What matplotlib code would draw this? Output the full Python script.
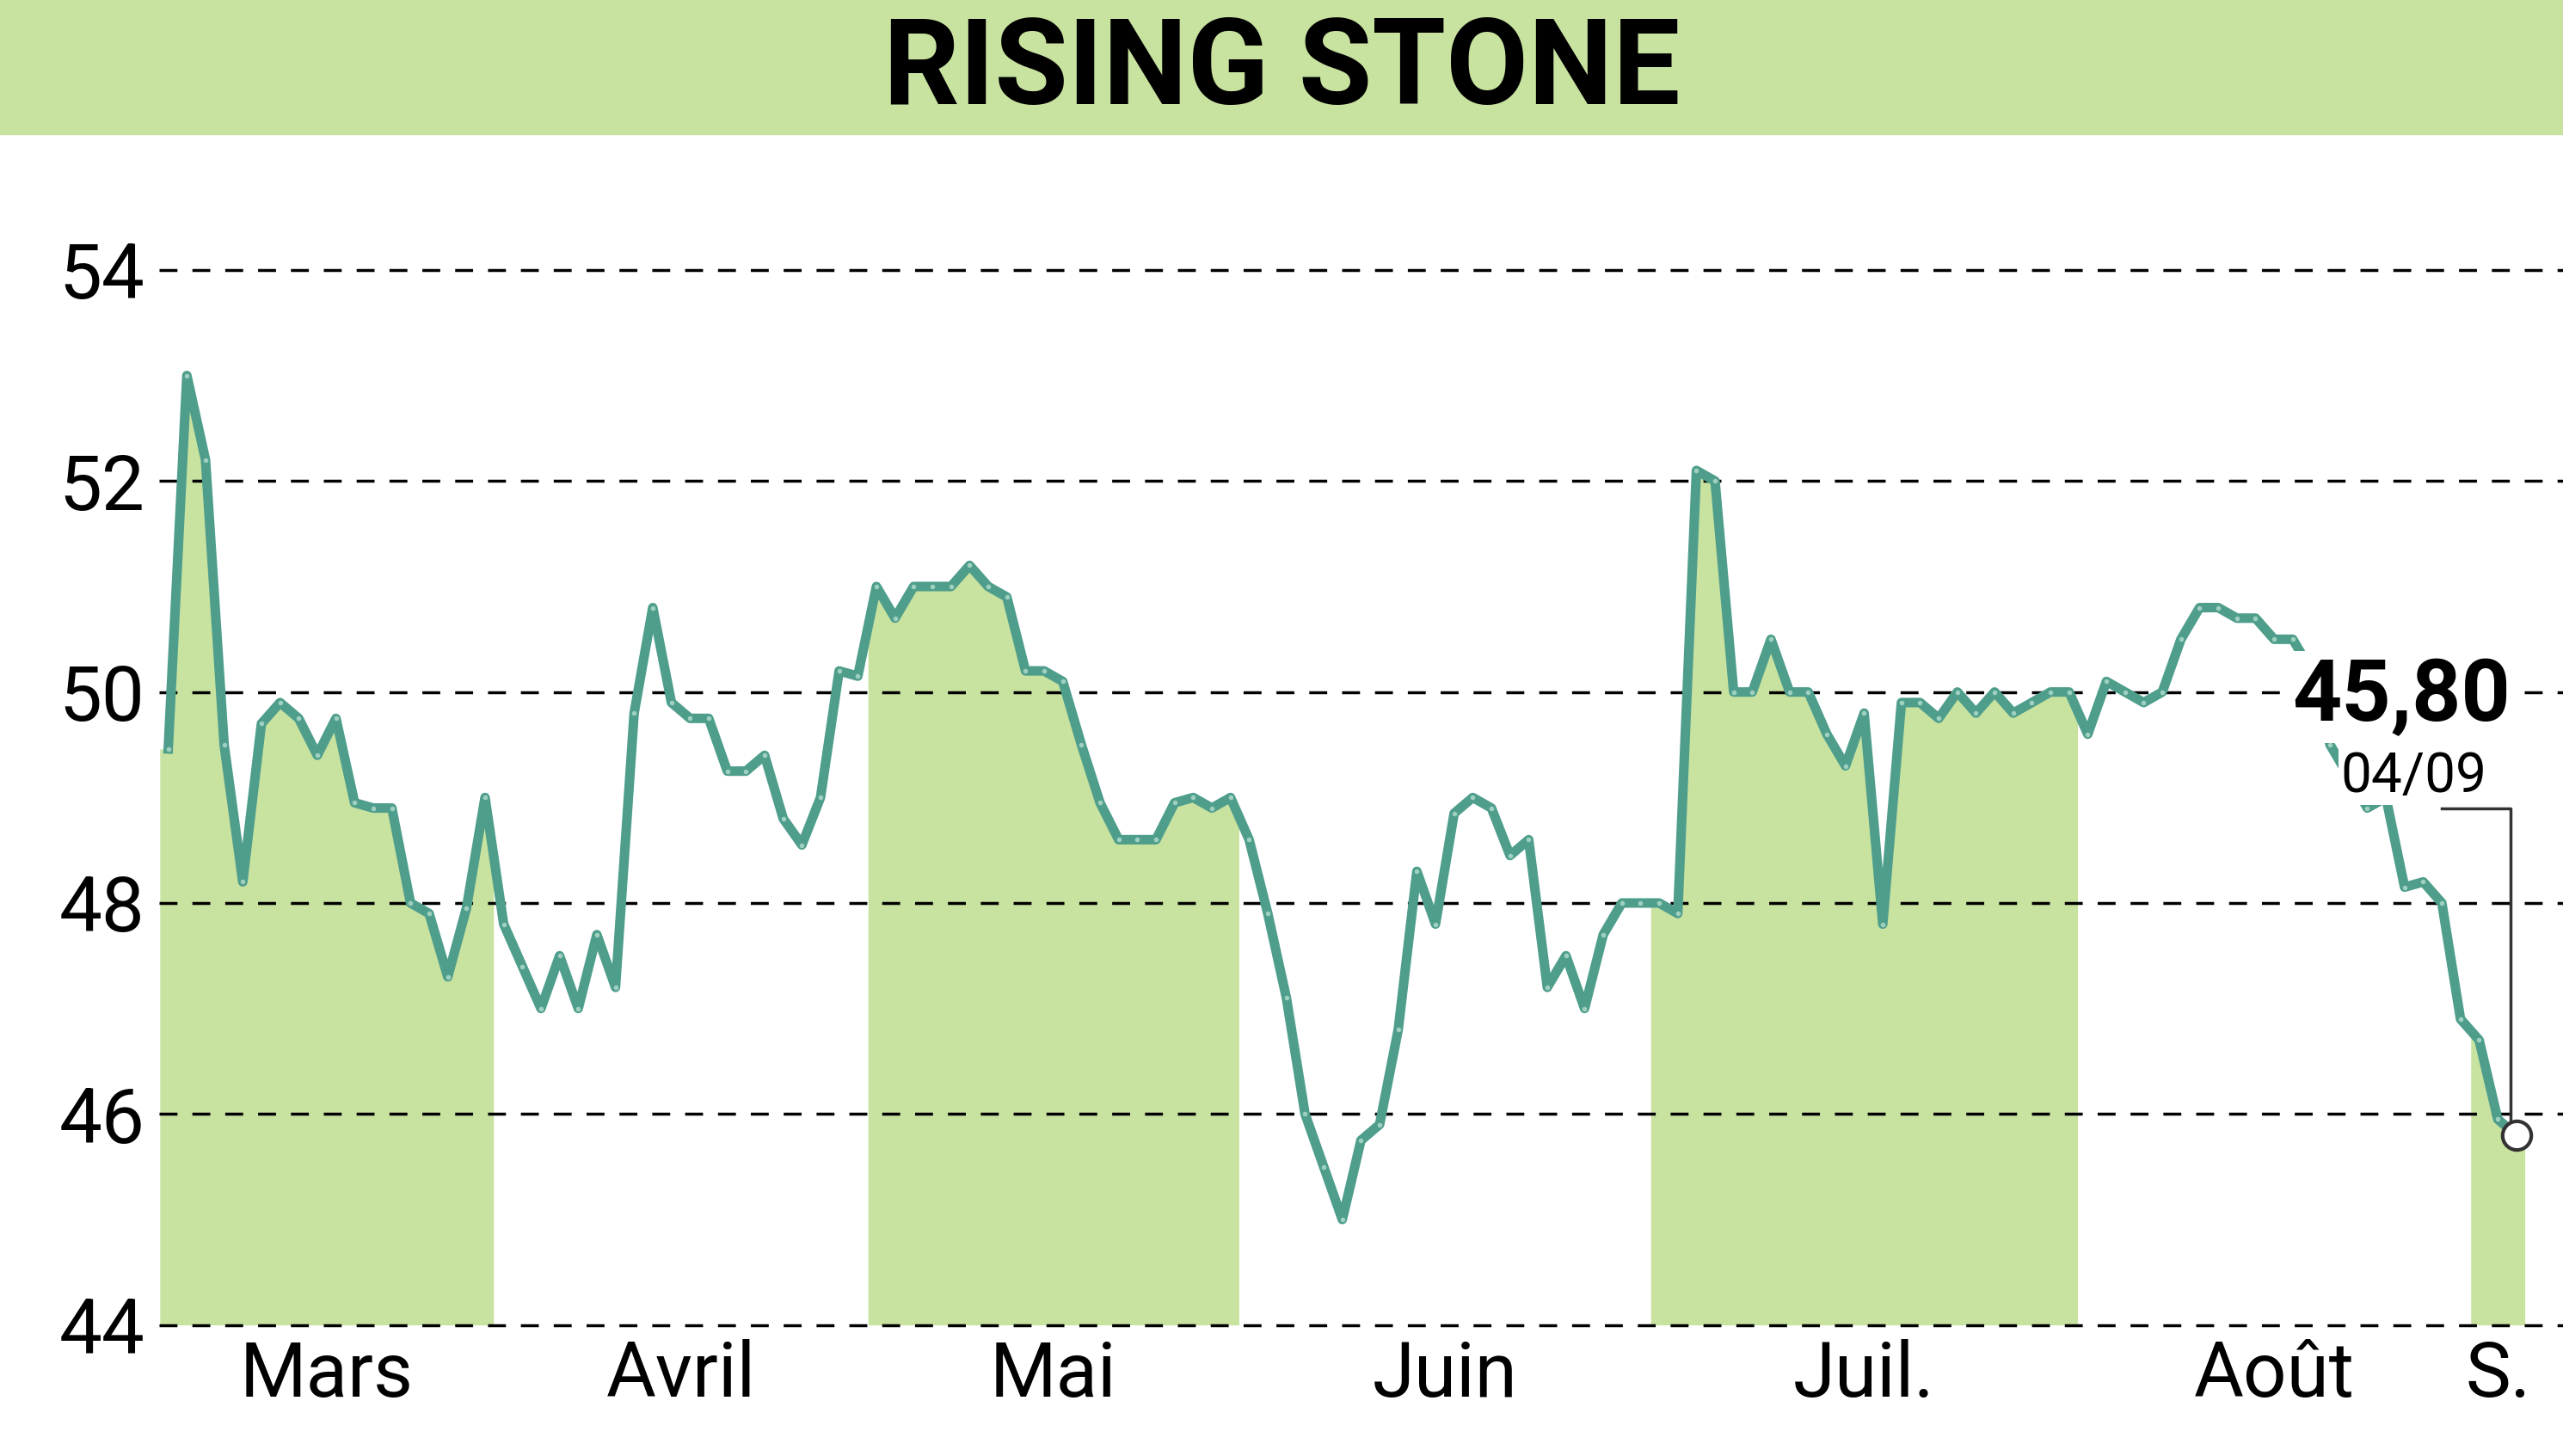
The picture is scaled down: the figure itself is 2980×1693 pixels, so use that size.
import numpy as np
import matplotlib.pyplot as plt

plt.rcParams['font.family'] = ['Roboto', 'DejaVu Sans']

# daily closes, one list per month
mars = [49.46, 53.0, 52.2, 49.5, 48.2, 49.7, 49.9, 49.75, 49.4, 49.75, 48.95, 48.9,
        48.9, 48.0, 47.9, 47.3, 47.95, 49.0]
avril = [47.8, 47.4, 47.0, 47.5, 47.0, 47.7, 47.2, 49.8, 50.8, 49.9, 49.75, 49.75,
         49.25, 49.25, 49.4, 48.8, 48.55, 49.0, 50.2, 50.15]
mai = [51.0, 50.7, 51.0, 51.0, 51.0, 51.2, 51.0, 50.9, 50.2, 50.2, 50.1, 49.5,
       48.95, 48.6, 48.6, 48.6, 48.95, 49.0, 48.9, 49.0]
juin = [48.6, 47.9, 47.1, 46.0, 45.5, 45.0, 45.75, 45.9, 46.8, 48.3, 47.8, 48.85,
        49.0, 48.9, 48.45, 48.6, 47.2, 47.5, 47.0, 47.7, 48.0, 48.0]
juil = [48.0, 47.9, 52.1, 52.0, 50.0, 50.0, 50.5, 50.0, 50.0, 49.6, 49.3, 49.8,
        47.8, 49.9, 49.9, 49.75, 50.0, 49.8, 50.0, 49.8, 49.9, 50.0, 50.0]
aout = [49.6, 50.1, 50.0, 49.9, 50.0, 50.5, 50.8, 50.8, 50.7, 50.7, 50.5, 50.5,
        50.2, 49.5, 49.2, 48.9, 49.0, 48.15, 48.2, 48.0, 46.9]
sept = [46.7, 45.95, 45.8]

months = [mars, avril, mai, juin, juil, aout, sept]
month_labels = ['Mars', 'Avril', 'Mai', 'Juin', 'Juil.', 'Août', 'S.']
shaded = [True, False, True, False, True, False, True]
yticks = [44, 46, 48, 50, 52, 54]
last_label = '45,80'
last_date = '04/09'

line_col = '#4f9e8c'
green = '#c8e2a0'

values = np.concatenate(months)
x = np.arange(len(values))

fig = plt.figure(figsize=(29.8, 16.93), dpi=100)
fig.patches.append(plt.Rectangle((0, 0.908), 1, 0.092, transform=fig.transFigure,
                                 color=green, zorder=0))
fig.text(0.5, 0.951, 'RISING STONE', ha='center', va='center', fontsize=100,
         fontweight='bold')

ax = fig.add_axes([0.062, 0.09, 0.938, 0.797])
ax.set_xlim(-0.5, 128.5)
ax.set_ylim(44, 55)

start = 0
centers = []
for vals, sh in zip(months, shaded):
    idx = np.arange(start, start + len(vals))
    centers.append(idx.mean())
    if sh:
        xs = np.concatenate([[idx[0] - 0.45], idx, [idx[-1] + 0.45]])
        ys = np.interp(xs, x, values)
        ax.fill_between(xs, 44, ys, color=green, lw=0, zorder=1)
    start += len(vals)

for v in yticks:
    ax.axhline(v, color='black', lw=2.5, ls=(0, (6, 5)), zorder=2, clip_on=False)

ax.plot(x, values, color=line_col, lw=8, zorder=3, solid_joinstyle='round',
        marker='o', ms=4, mfc='#9fd0c0', mec='none')
ax.plot(x[-1], values[-1], 'o', ms=24, mfc='white', mec='#333333', mew=3, zorder=5)

# leader to last point
ax.plot([x[-5], x[-1] - 0.3, x[-1] - 0.3], [48.9, 48.9, values[-1]],
        color='#333333', lw=2.5, zorder=4)
ax.text(x[-1] - 0.3, 49.95, last_label, ha='right', va='center', fontsize=72,
        fontweight='bold', zorder=6,
        bbox=dict(facecolor='white', edgecolor='none', pad=4))
ax.text(x[-2] - 0.6, 49.2, last_date, ha='right', va='center', fontsize=46,
        zorder=6, bbox=dict(facecolor='white', edgecolor='none', pad=2))

ax.set_yticks(yticks)
ax.set_yticklabels([str(v) for v in yticks], fontsize=64)
ax.set_xticks(centers)
ax.set_xticklabels(month_labels, fontsize=64)
ax.tick_params(length=0, pad=12)
for s in ax.spines.values():
    s.set_visible(False)

fig.savefig('out.png', dpi=100)
